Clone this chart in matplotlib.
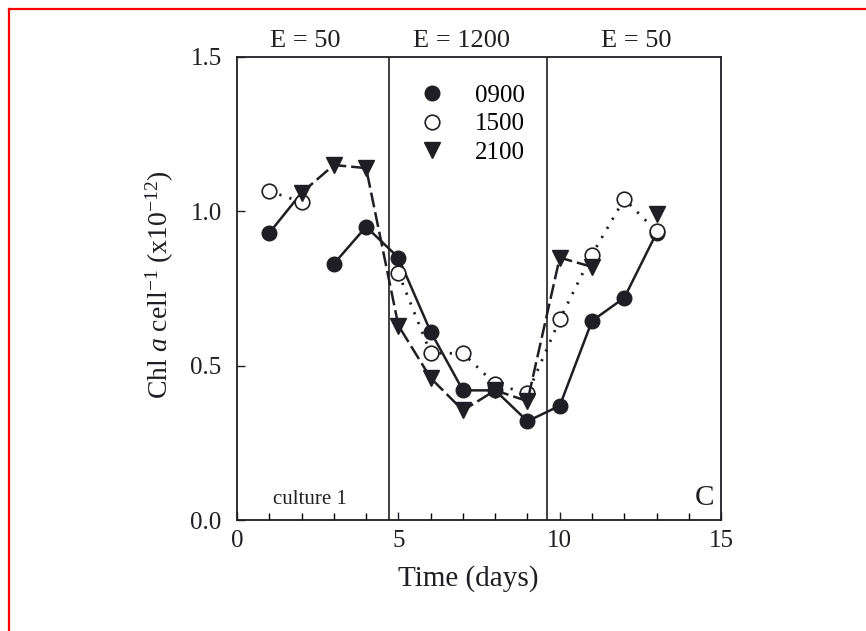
#!/usr/bin/env python3
# coding: utf-8

import numpy as np
import matplotlib
matplotlib.use('Agg')
import matplotlib.pyplot as plt
from matplotlib.lines import Line2D
from matplotlib.ticker import MultipleLocator

# data
days = [1, 2, 3, 4, 5, 6, 7, 8, 9, 10, 11, 12, 13]
chl_0900 = [0.93, 1.06, 0.83, 0.95, 0.85, 0.61, 0.42, 0.42, 0.32, 0.37, 0.645, 0.72, 0.93]
chl_1500 = [1.065, 1.03, np.nan, np.nan, 0.80, 0.54, 0.54, 0.44, 0.41, 0.65, 0.86, 1.04, 0.935]
chl_2100 = [np.nan, 1.06, 1.15, 1.14, 0.63, 0.46, 0.355, 0.42, 0.385, 0.85, 0.82, np.nan, 0.99]
break_0900 = 2          # 0900 line is broken between day 2 and day 3

light_changes = [4.7, 9.6]
light_labels = ['E = 50', 'E = 1200', 'E = 50']
light_label_x = [2.1, 6.97, 12.36]

plt.rcParams['font.family'] = ['Liberation Serif', 'DejaVu Serif']
plt.rcParams['mathtext.fontset'] = 'custom'
plt.rcParams['mathtext.rm'] = 'Liberation Serif'
plt.rcParams['mathtext.it'] = 'Liberation Serif:italic'

fig = plt.figure(figsize=(8.66, 6.31), dpi=100)
ax = fig.add_axes([0.2737, 0.1759, 0.559, 0.7338])

ink = '#1e1e24'
ms = 10.5

# 0900, filled circles, solid
d = np.array(days, dtype=float)
c9 = np.array(chl_0900)
ax.plot(d[:break_0900], c9[:break_0900], '-', color=ink, lw=1.8,
        marker='o', ms=ms, mfc=ink, mec=ink, markevery=[0], zorder=3)
ax.plot(d[break_0900:], c9[break_0900:], '-', color=ink, lw=1.8,
        marker='o', ms=ms, mfc=ink, mec=ink, zorder=3)

# 1500, open circles, dotted
ax.plot(days, chl_1500, color=ink, lw=2.0, linestyle=(0, (0.8, 3.0)),
        marker='o', ms=ms, mfc='white', mec=ink, mew=1.2, zorder=4)

# 2100, down triangles, long dash
ax.plot(days, chl_2100, color=ink, lw=1.8, dashes=(6, 2),
        marker='v', ms=ms + 0.5, mfc=ink, mec=ink, zorder=5)

for xc in light_changes:
    ax.axvline(xc, color=ink, lw=1.2, zorder=1)

ax.set_xlim(0, 15)
ax.set_ylim(0, 1.5)
ax.xaxis.set_major_locator(MultipleLocator(5))
ax.xaxis.set_minor_locator(MultipleLocator(1))
ax.set_yticks([0, 0.5, 1.0, 1.5])
ax.set_yticklabels(['0.0', '0.5', '1.0', '1.5'])
ax.tick_params(axis='x', which='major', direction='in', length=6, width=1, pad=7,
               labelsize=18, colors=ink)
ax.tick_params(axis='x', which='minor', direction='in', length=5, width=1)
ax.tick_params(axis='y', which='major', direction='in', length=6, width=1, pad=11,
               labelsize=18, colors=ink)
for sp in ax.spines.values():
    sp.set_linewidth(1.3)
    sp.set_color(ink)

ax.set_xlabel('Time (days)', fontsize=21, color=ink)
ax.xaxis.set_label_coords(0.477, -0.097)
ax.set_ylabel(r'Chl $\mathit{a}$ cell$^{\mathrm{-1}}$ (x10$^{\mathrm{-12}}$)',
              fontsize=20, color=ink)
ax.yaxis.set_label_coords(-0.126, 0.508)

for lx, lab in zip(light_label_x, light_labels):
    ax.text(lx, 1.0216, lab, transform=ax.get_xaxis_transform(),
            ha='center', va='baseline', fontsize=19, color=ink)

ax.text(2.26, 0.052, 'culture 1', ha='center', va='baseline', fontsize=15, color=ink)
ax.text(14.5, 0.048, 'C', ha='center', va='baseline', fontsize=21, color=ink)

handles = [Line2D([], [], ls='none', marker='o', ms=ms, mfc=ink, mec=ink),
           Line2D([], [], ls='none', marker='o', ms=ms, mfc='white', mec=ink, mew=1.2),
           Line2D([], [], ls='none', marker='v', ms=ms + 0.5, mfc=ink, mec=ink)]
ax.legend(handles, ['0900', '1500', '2100'], loc='center left',
          bbox_to_anchor=(0.377, 0.855), frameon=False, fontsize=18,
          handlelength=1.0, handletextpad=1.2, labelspacing=0.25,
          borderpad=0, borderaxespad=0)

# red frame from the screenshot
fig.add_artist(Line2D([0.0104, 1.0], [0.9857, 0.9857], color='red', lw=1.6,
                      transform=fig.transFigure))
fig.add_artist(Line2D([0.0104, 0.0104], [0.0, 0.9857], color='red', lw=1.6,
                      transform=fig.transFigure))

fig.savefig('out.png', dpi=100)
